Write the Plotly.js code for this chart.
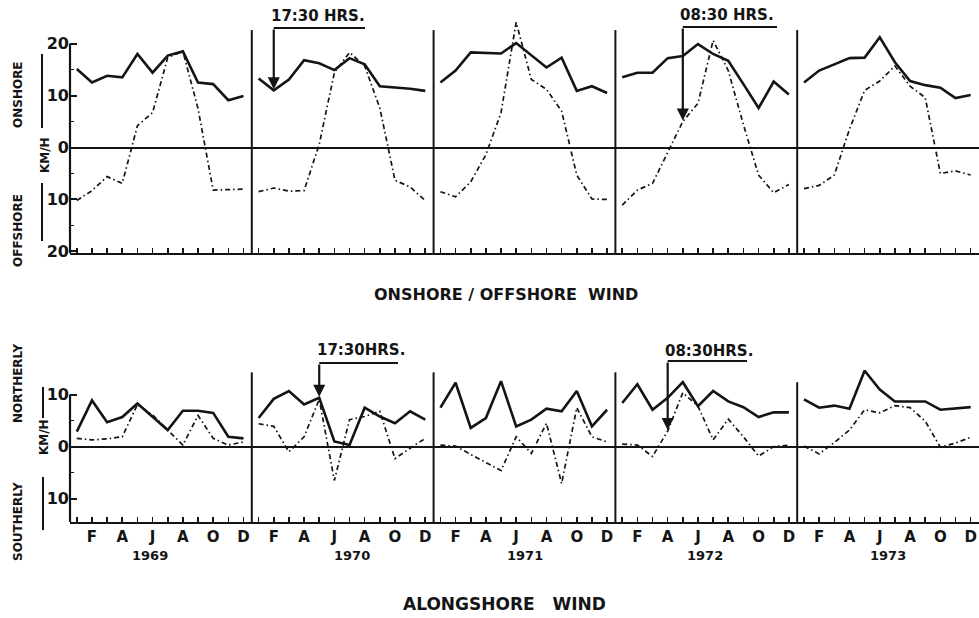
<!DOCTYPE html>
<html>
<head>
<meta charset="utf-8">
<script src="https://cdn.plot.ly/plotly-3.0.1.min.js"></script>
<style>html,body{margin:0;padding:0;background:#fff;}#chart{width:979px;height:618px;}</style>
</head>
<body>
<div id="chart"></div>
<script>
// ---------------- DATA ----------------
const years = ['1969', '1970', '1971', '1972', '1973'];
const monthLetters = ['J', 'F', 'M', 'A', 'M', 'J', 'J', 'A', 'S', 'O', 'N', 'D'];
const labelledMonths = [1, 3, 5, 7, 9, 11]; // F A J A O D

// Onshore(+)/offshore(-) wind, km/h, monthly, 1969-1973
const onshore1730 = [
  15.1, 12.5, 13.8, 13.5, 18.0, 14.4, 17.7, 18.5, 12.5, 12.2, 9.1, 9.9,
  13.3, 11.0, 13.1, 16.8, 16.2, 14.9, 17.2, 16.0, 11.8, 11.6, 11.3, 10.9,
  12.5, 14.8, 18.3, 18.2, 18.1, 20.1, 17.7, 15.4, 17.3, 10.9, 11.8, 10.5,
  13.5, 14.4, 14.4, 17.2, 17.6, 19.9, 18.0, 16.7, 12.2, 7.6, 12.7, 10.2,
  12.5, 14.8, 16.0, 17.2, 17.3, 21.2, 16.4, 12.8, 12.0, 11.5, 9.5, 10.1
];
const onshore0830 = [
  -10.2, -8.3, -5.6, -6.9, 4.2, 6.7, 17.3, 18.5, 7.5, -8.2, -8.1, -8.0,
  -8.5, -7.8, -8.4, -8.3, 0.6, 14.4, 18.3, 15.7, 7.6, -6.3, -7.6, -10.2,
  -8.5, -9.5, -6.6, -1.4, 6.7, 24.1, 13.1, 11.2, 7.0, -5.3, -9.9, -10.0,
  -11.1, -8.2, -6.9, -0.8, 5.0, 8.5, 20.6, 14.8, 4.4, -5.3, -8.7, -7.1,
  -7.9, -7.3, -5.3, 3.5, 11.0, 12.8, 15.7, 11.8, 9.6, -5.0, -4.5, -5.3
];
// Alongshore wind: northerly(+)/southerly(-), km/h
const along1730 = [
  2.9, 8.9, 4.7, 5.7, 8.3, 5.8, 3.2, 6.9, 6.9, 6.5, 1.9, 1.6,
  5.5, 9.2, 10.7, 8.1, 9.4, 1.0, 0.3, 7.5, 5.8, 4.5, 6.8, 5.2,
  7.5, 12.3, 3.6, 5.5, 12.6, 3.9, 5.2, 7.3, 6.8, 10.7, 3.9, 7.1,
  8.4, 12.0, 7.1, 9.4, 12.4, 7.8, 10.7, 8.7, 7.6, 5.7, 6.6, 6.6,
  9.1, 7.5, 7.9, 7.3, 14.6, 11.0, 8.7, 8.7, 8.7, 7.1, 7.3, 7.6
];
const along0830 = [
  1.6, 1.3, 1.5, 1.9, 8.1, 6.1, 3.2, 0.3, 6.0, 1.6, 0.3, 0.9,
  4.4, 3.9, -1.0, 1.9, 9.1, -6.5, 5.2, 5.8, 6.8, -2.3, -0.3, 1.6,
  0.3, 0.1, -1.5, -3.0, -4.6, 1.9, -1.3, 4.5, -7.1, 7.5, 1.9, 0.9,
  0.5, 0.3, -1.9, 3.0, 10.4, 7.8, 1.3, 5.3, 1.9, -1.8, 0.0, 0.3,
  0.1, -1.4, 0.8, 3.2, 7.1, 6.5, 7.9, 7.5, 4.9, -0.1, 0.7, 1.8
];

// ---------------- LAYOUT HELPERS ----------------
const W = 979, H = 618, L = 70;
const MONTH_OFFSET = 0.45;
const topRange = [-20.3, 25.5], botRange = [-14.5, 14.75];
const topDomain = [1 - 253 / H, 1 - 15 / H];
const botDomain = [1 - 522 / H, 1 - 370 / H];
const ink = '#141414';
const FONT = 'DejaVu Sans, Liberation Sans, sans-serif';

function monthX(yi, m) { return yi * 12 + m + MONTH_OFFSET; }
function paperY(v, dom, rng) { return dom[0] + (v - rng[0]) / (rng[1] - rng[0]) * (dom[1] - dom[0]); }
function pxY(v, dom, rng) { return H * (1 - paperY(v, dom, rng)); }
function pxToPaperX(px) { return (px - L) / (W - L); }
function pxToPaperY(py) { return 1 - py / H; }

function buildXY(values) {
  const x = [], y = [];
  years.forEach((yr, yi) => {
    for (let m = 0; m < 12; m++) { x.push(monthX(yi, m)); y.push(values[yi * 12 + m]); }
    x.push(null); y.push(null);
  });
  return { x, y };
}

const solidLine = { color: ink, width: 2.6 };
const dashLine = { color: ink, width: 1.7, dash: '5px,3px,1.5px,3px' };

const t1 = buildXY(onshore1730), t2 = buildXY(onshore0830);
const b1 = buildXY(along1730), b2 = buildXY(along0830);

const traces = [
  { x: t1.x, y: t1.y, xaxis: 'x', yaxis: 'y', mode: 'lines', line: solidLine, name: '17:30 HRS.', connectgaps: false },
  { x: t2.x, y: t2.y, xaxis: 'x', yaxis: 'y', mode: 'lines', line: dashLine, name: '08:30 HRS.', connectgaps: false },
  { x: b1.x, y: b1.y, xaxis: 'x2', yaxis: 'y2', mode: 'lines', line: solidLine, name: '17:30 HRS.', connectgaps: false },
  { x: b2.x, y: b2.y, xaxis: 'x2', yaxis: 'y2', mode: 'lines', line: dashLine, name: '08:30 HRS.', connectgaps: false }
];

// month ticks
const tickVals = [], tickTextTop = [], tickTextBot = [];
years.forEach((yr, yi) => {
  for (let m = 0; m < 12; m++) {
    tickVals.push(monthX(yi, m));
    tickTextTop.push('');
    tickTextBot.push(labelledMonths.includes(m) ? monthLetters[m] : '');
  }
});

const xCommon = {
  range: [0, 60], showline: true, linecolor: ink, linewidth: 2.2,
  ticks: 'inside', ticklen: 5, tickwidth: 1.6, tickcolor: ink,
  tickmode: 'array', tickvals: tickVals, showgrid: false, zeroline: false, fixedrange: true
};

const layout = {
  width: W, height: H,
  margin: { l: L, r: 0, t: 0, b: 0 },
  paper_bgcolor: '#fff', plot_bgcolor: '#fff',
  showlegend: false,
  font: { family: FONT, color: ink, size: 14, weight: 'bold' },
  xaxis: Object.assign({}, xCommon, { anchor: 'y', domain: [0, 1], ticktext: tickTextTop, showticklabels: false }),
  xaxis2: Object.assign({}, xCommon, { anchor: 'y2', domain: [0, 1], ticktext: tickTextBot, ticklabelstandoff: 0,
    tickfont: { family: FONT, size: 15, color: ink, weight: 'bold' } }),
  yaxis: {
    anchor: 'x', domain: topDomain, range: topRange, showline: false, showgrid: false,
    zeroline: true, zerolinecolor: ink, zerolinewidth: 2,
    ticks: 'inside', ticklen: 7, tickwidth: 2, tickcolor: ink,
    tickmode: 'array', tickvals: [-20, -10, 0, 10, 20], ticktext: ['20', '10', '0', '10', '20'],
    minor: { tickmode: 'array', tickvals: [-15, -5, 5, 15], ticks: 'inside', ticklen: 4, tickwidth: 1.5, tickcolor: ink },
    tickfont: { family: FONT, size: 16, color: ink, weight: 'bold' }, fixedrange: true
  },
  yaxis2: {
    anchor: 'x2', domain: botDomain, range: botRange, showline: false, showgrid: false,
    zeroline: true, zerolinecolor: ink, zerolinewidth: 2,
    ticks: 'inside', ticklen: 7, tickwidth: 2, tickcolor: ink,
    tickmode: 'array', tickvals: [-10, 0, 10], ticktext: ['10', '0', '10'],
    minor: { tickmode: 'array', tickvals: [-5, 5], ticks: 'inside', ticklen: 4, tickwidth: 1.5, tickcolor: ink },
    tickfont: { family: FONT, size: 16, color: ink, weight: 'bold' }, fixedrange: true
  },
  shapes: [],
  annotations: []
};

// y-axis lines (only over the labelled range)
layout.shapes.push({ type: 'line', xref: 'paper', yref: 'paper', x0: 0, x1: 0,
  y0: paperY(topRange[0], topDomain, topRange), y1: paperY(20, topDomain, topRange), line: { color: ink, width: 2.2 } });
layout.shapes.push({ type: 'line', xref: 'paper', yref: 'paper', x0: 0, x1: 0,
  y0: paperY(botRange[0], botDomain, botRange), y1: paperY(10, botDomain, botRange), line: { color: ink, width: 2.2 } });

// year dividers
for (let yi = 1; yi < years.length; yi++) {
  layout.shapes.push({ type: 'line', xref: 'x', yref: 'y', x0: yi * 12, x1: yi * 12, y0: topRange[0], y1: 22.6,
    line: { color: ink, width: 2 } });
  layout.shapes.push({ type: 'line', xref: 'x2', yref: 'y2', x0: yi * 12, x1: yi * 12, y0: botRange[0], y1: yi === 4 ? 12.4 : 14.3,
    line: { color: ink, width: 2 } });
}

// year labels
const yearLabelX = [5.3, 18.6, 30.0, 41.9, 54.0];
years.forEach((yr, yi) => {
  layout.annotations.push({ text: yr, xref: 'x2', yref: 'paper', x: yearLabelX[yi], y: pxToPaperY(555),
    showarrow: false, xanchor: 'center', yanchor: 'middle', font: { family: FONT, size: 13, color: ink, weight: 'bold' } });
});

// bracket annotations (time of observation)
function bracket(xref, yref, dom, rng, yi, m, values, bracketPx, rightPx, textPx, label) {
  const xv = monthX(yi, m);
  const yv = values[yi * 12 + m];
  const tip = pxY(yv, dom, rng);
  layout.annotations.push({ xref: xref, yref: yref, x: xv, y: yv, text: '', showarrow: true,
    ax: 0, ay: -(tip - bracketPx), arrowhead: 2, arrowsize: 1.1, arrowwidth: 2.2, arrowcolor: ink, standoff: 1 });
  const xr = (rightPx - L) / (W - L) * 60;
  layout.shapes.push({ type: 'line', xref: xref, yref: 'paper', x0: xv, x1: xr,
    y0: pxToPaperY(bracketPx), y1: pxToPaperY(bracketPx), line: { color: ink, width: 2.2 } });
  layout.annotations.push({ xref: xref, yref: 'paper', x: xv - 0.3, y: pxToPaperY(textPx), text: label, showarrow: false,
    xanchor: 'left', yanchor: 'middle', font: { family: FONT, size: 15, color: ink, weight: 'bold' } });
}
bracket('x', 'y', topDomain, topRange, 1, 1, onshore1730, 28, 365, 16, '17:30 HRS.');
bracket('x', 'y', topDomain, topRange, 3, 4, onshore0830, 27, 777, 15, '08:30 HRS.');
bracket('x2', 'y2', botDomain, botRange, 1, 4, along1730, 363, 398, 350, '17:30HRS.');
bracket('x2', 'y2', botDomain, botRange, 3, 3, along0830, 361, 747, 351, '08:30HRS.');

// titles
layout.annotations.push({ text: 'ONSHORE / OFFSHORE&nbsp;&nbsp;WIND', xref: 'paper', yref: 'paper',
  x: pxToPaperX(506), y: pxToPaperY(294), showarrow: false, xanchor: 'center', yanchor: 'middle',
  font: { family: FONT, size: 16, color: ink, weight: 'bold' } });
layout.annotations.push({ text: 'ALONGSHORE&nbsp;&nbsp;&nbsp;WIND', xref: 'paper', yref: 'paper',
  x: pxToPaperX(504), y: pxToPaperY(604), showarrow: false, xanchor: 'center', yanchor: 'middle',
  font: { family: FONT, size: 17, color: ink, weight: 'bold' } });

// side labels
function sideLabel(text, px, py, size) {
  layout.annotations.push({ text: text, xref: 'paper', yref: 'paper', x: pxToPaperX(px), y: pxToPaperY(py),
    showarrow: false, textangle: -90, xanchor: 'center', yanchor: 'middle',
    font: { family: FONT, size: size, color: ink, weight: 'bold' } });
}
sideLabel('ONSHORE', 18, 95, 12);
sideLabel('OFFSHORE', 18, 231, 12);
sideLabel('KM/H', 45, 155, 12);
sideLabel('NORTHERLY', 18, 384, 12);
sideLabel('SOUTHERLY', 18, 522, 12);
sideLabel('KM/H', 44, 437, 12);

function vline(px, py0, py1) {
  layout.shapes.push({ type: 'line', xref: 'paper', yref: 'paper', x0: pxToPaperX(px), x1: pxToPaperX(px),
    y0: pxToPaperY(py0), y1: pxToPaperY(py1), line: { color: ink, width: 2 } });
}
vline(42, 54, 128); vline(42, 183, 241);
vline(43, 387, 418); vline(43, 477, 530);

Plotly.newPlot('chart', traces, layout, { displayModeBar: false, staticPlot: true });
</script>
</body>
</html>
